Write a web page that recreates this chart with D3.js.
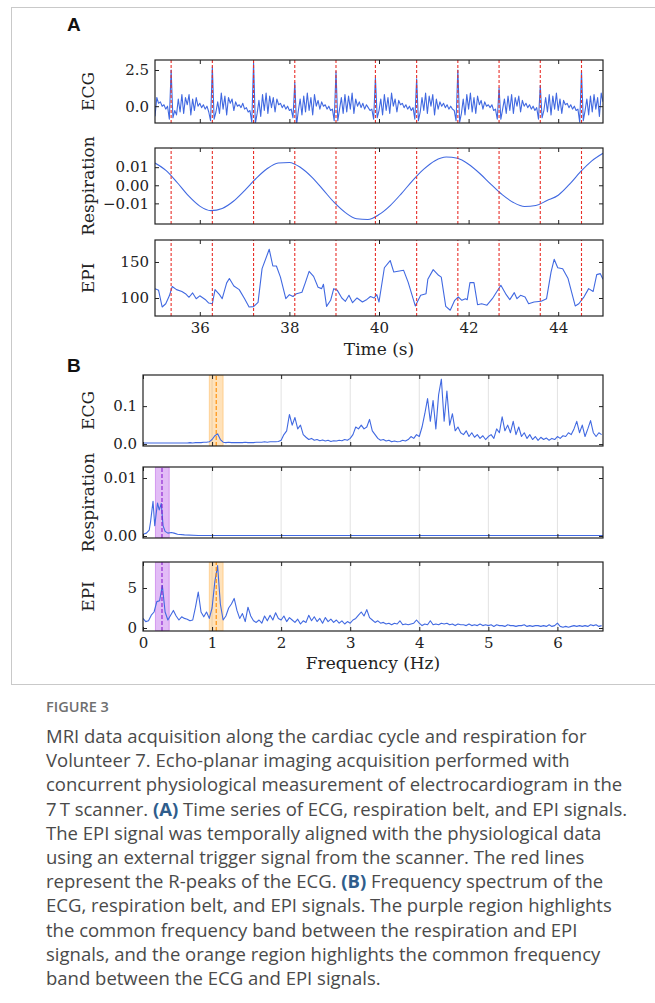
<!DOCTYPE html>
<html>
<head>
<meta charset="utf-8">
<script src="https://cdn.jsdelivr.net/npm/d3@7"></script>
<style>
  body { margin: 0; background: #fff; }
  svg { display: block; }
</style>
</head>
<body>
<svg id="fig" width="655" height="1003"></svg>
<script>
// ---- data ----

// A: ECG, sampled every 0.04 s from 35 s
const ecgStart = 35, ecgStep = 0.04;
const ecgValues = [
  -0.7, 0.6, 0.2, 0.3, 0.0, 0.1, -0.2, 0.0, -0.9,
  2.5,
  -0.8, -0.3, -0.6, 0.5, -0.4, 0.8, -0.5, 0.6, 0.1, 0.8, -0.6, 0.5, -0.3, 0.6, 0.0, 0.2, -0.1, 0.1, -0.2, 0.0, -0.4, -1.0,
  2.72,
  -0.9, -0.4, 0.3, -0.5, 0.9, -0.2, 0.7, -0.6, 0.6, 0.2, 0.5, -0.3, 0.3, 0.0, 0.1, -0.1, 0.2, -0.2, -0.1, -0.4, -0.3, -1.1,
  3.0,
  -1.2, -0.5, 0.4, -0.7, 0.8, -0.3, 0.9, -0.5, 0.7, -0.1, 0.6, -0.4, 0.5, 0.1, 0.2, -0.1, 0.1, -0.2, 0.0, -0.3, -0.2, -0.8,
  1.63,
  -1.3, -0.3, 0.5, -0.6, 0.7, -0.4, 0.9, -0.3, 0.6, -0.6, 0.8, 0.0, 0.4, -0.2, 0.3, 0.0, 0.1, -0.2, 0.0, -0.3, -0.2, -1.0,
  2.39,
  -1.0, -0.2, 0.6, -0.5, 0.8, -0.4, 0.7, -0.2, 0.9, -0.5, 0.5, 0.0, 0.3, -0.1, 0.2, -0.2, 0.1, -0.1, -0.3, -0.2, -0.9,
  1.96,
  -0.8, -0.3, 0.5, -0.6, 0.8, -0.3, 0.6, -0.5, 0.9, 0.0, 0.5, -0.4, 0.4, 0.1, 0.2, -0.1, 0.1, -0.2, 0.0, -0.3, -0.1, -0.9,
  1.9,
  -1.0, -0.4, 0.6, -0.3, 0.9, -0.5, 0.7, 0.0, 0.8, -0.6, 0.5, -0.2, 0.3, 0.0, 0.2, -0.1, 0.1, -0.2, 0.0, -0.2, -0.3, -1.0,
  2.5,
  -1.1, -0.5, 0.5, -0.6, 0.8, -0.2, 0.9, -0.4, 0.6, -0.5, 0.7, 0.1, 0.4, -0.2, 0.3, 0.0, 0.1, -0.1, 0.1, -0.3, -0.2, -0.9,
  1.27,
  -0.9, -0.2, 0.5, -0.5, 0.7, -0.3, 0.8, -0.5, 0.6, 0.0, 0.7, -0.4, 0.4, 0.0, 0.2, -0.1, 0.1, -0.2, 0.0, -0.3, -0.1, -0.9,
  1.45,
  -0.8, -0.3, 0.6, -0.4, 0.8, -0.6, 0.7, -0.2, 0.9, -0.3, 0.5, -0.5, 0.4, 0.1, 0.2, -0.1, 0.1, -0.2, 0.0, -0.3, -0.2, -1.1,
  2.41,
  -1.0, -0.3, 0.5, -0.6, 0.7, -0.4, 0.8, -0.2, 0.6, -0.7, 0.9, 0.3
];

// R-peak times (s), red dashed lines
const rPeaks = [35.36, 36.28, 37.20, 38.12, 39.04, 39.92, 40.84, 41.76, 42.68, 43.60, 44.52];

// A: respiration belt, every 0.25 s from 35 s
const respStart = 35, respStep = 0.25;
const respValues = [
  0.0123, 0.0081, 0.0014, -0.0059, -0.0115, -0.0140, -0.0128, -0.0088, -0.0029, 0.0036,
  0.0091, 0.0123, 0.0126, 0.0098, 0.0045, -0.0024, -0.0095, -0.0151, -0.0185, -0.0189,
  -0.0162, -0.0112, -0.0046, 0.0026, 0.0089, 0.0136, 0.0156, 0.0149, 0.0116, 0.0065,
  0.0005, -0.0052, -0.0095, -0.0117, -0.0112, -0.0084, -0.0055, 0.0005, 0.0075, 0.0135,
  0.0177
];

// A: EPI signal
const epiTime = [
  35.00, 35.08, 35.16, 35.24, 35.32, 35.385, 35.48, 35.60, 35.68, 35.76, 35.84, 35.92, 36.00, 36.12, 36.20,
  36.28, 36.34, 36.44, 36.50, 36.60, 36.66, 36.76, 36.88, 37.00, 37.10, 37.20, 37.30, 37.39, 37.55, 37.63,
  37.71, 37.80, 37.92, 38.00, 38.08, 38.16, 38.28, 38.36, 38.44, 38.54, 38.64, 38.72, 38.76, 38.83, 38.92,
  38.99, 39.07, 39.17, 39.25, 39.33, 39.41, 39.51, 39.63, 39.73, 39.81, 39.89, 39.95, 40.00, 40.12, 40.25,
  40.33, 40.55, 40.65, 40.81, 40.93, 41.05, 41.09, 41.21, 41.33, 41.39, 41.49, 41.59, 41.69, 41.77, 41.85,
  41.93, 41.97, 42.03, 42.12, 42.20, 42.29, 42.41, 42.53, 42.72, 42.84, 42.92, 43.02, 43.08, 43.16, 43.26,
  43.34, 43.46, 43.62, 43.74, 43.84, 43.91, 43.99, 44.10, 44.22, 44.38, 44.46, 44.58, 44.68, 44.78, 44.86,
  44.94, 45.00
];
const epiValues = [
  113, 110.6, 87.5, 92, 103, 116, 111.6, 109, 106, 101, 107, 99, 103, 98, 93,
  92, 111.6, 104.6, 99, 121, 127, 116.7, 111.6, 99, 87.5, 88, 94, 140.7, 167.6, 144.4,
  144.4, 129, 99, 104.6, 102, 106, 108, 122, 137, 130, 115, 113, 119, 88.4, 96.8,
  113, 110.6, 100, 95.4, 103.7, 93.5, 100, 94.4, 98, 102, 100, 104.6, 94.4, 142, 152,
  136, 138.4, 122, 89, 103.7, 106, 126, 139.4, 131.5, 129, 88.4, 83, 96.8, 101.4, 96.8,
  99, 97.7, 121.3, 121.3, 90.7, 92, 90, 99, 117.6, 104.6, 97.7, 107.4, 99, 103.7, 101.4,
  92, 94.4, 95.4, 99, 136, 153.7, 142, 140.7, 126.9, 89, 92, 102, 113, 109, 132.4,
  133.8, 126
];

const timeTicks = [36, 38, 40, 42, 44];

// B: spectra, every 0.04 Hz from 0 Hz
const specStep = 0.04;
const ecgSpectrum = [
  0.003, 0.003, 0.003, 0.003, 0.003, 0.003, 0.003, 0.003, 0.003, 0.003,
  0.003, 0.003, 0.003, 0.003, 0.003, 0.003, 0.003, 0.004, 0.003, 0.004,
  0.004, 0.004, 0.005, 0.005, 0.006, 0.012, 0.022, 0.027, 0.012, 0.005,
  0.004, 0.005, 0.004, 0.004, 0.004, 0.004, 0.004, 0.005, 0.004, 0.004,
  0.004, 0.005, 0.005, 0.005, 0.006, 0.005, 0.006, 0.006, 0.006, 0.007,
  0.010, 0.025, 0.035, 0.078, 0.050, 0.070, 0.040, 0.050, 0.025, 0.018,
  0.012, 0.015, 0.010, 0.012, 0.009, 0.011, 0.008, 0.010, 0.007, 0.009,
  0.008, 0.010, 0.009, 0.012, 0.010, 0.015, 0.025, 0.045, 0.040, 0.050,
  0.040, 0.045, 0.065, 0.035, 0.025, 0.015, 0.010, 0.012, 0.008, 0.010,
  0.006, 0.008, 0.006, 0.007, 0.010, 0.008, 0.012, 0.020, 0.015, 0.025,
  0.020, 0.045, 0.080, 0.120, 0.060, 0.115, 0.040, 0.130, 0.171, 0.060,
  0.140, 0.050, 0.080, 0.035, 0.045, 0.030, 0.025, 0.035, 0.020, 0.030,
  0.018, 0.025, 0.015, 0.022, 0.012, 0.020, 0.025, 0.015, 0.040, 0.030,
  0.072, 0.035, 0.050, 0.030, 0.060, 0.025, 0.045, 0.020, 0.030, 0.015,
  0.025, 0.012, 0.020, 0.010, 0.018, 0.012, 0.016, 0.010, 0.015, 0.012,
  0.020, 0.015, 0.022, 0.020, 0.030, 0.025, 0.040, 0.060, 0.030, 0.050,
  0.020, 0.040, 0.062, 0.030, 0.020, 0.030, 0.025
];
const epiSpectrum = [
  1.2, 0.8, 0.9, 1.6, 2.0, 3.3, 3.4, 5.3, 2.0, 1.0,
  1.6, 2.2, 1.5, 1.0, 1.4, 1.2, 1.1, 0.9, 1.0, 2.6,
  4.5, 2.0, 1.4, 2.0, 1.2, 2.5, 5.8, 7.8, 3.0, 1.0,
  1.5, 2.5, 3.0, 3.7, 2.2, 1.2, 1.8, 0.8, 2.6, 1.5,
  0.9, 0.7, 1.0, 0.6, 1.5, 0.9, 1.6, 1.0, 1.9, 1.2,
  1.0, 1.5, 0.8, 1.3, 1.0, 0.7, 1.1, 0.5, 0.9, 0.7,
  1.6, 0.9, 1.4, 0.8, 1.2, 0.6, 1.3, 0.8, 1.1, 0.7,
  1.0, 0.6, 0.9, 0.5, 0.8, 0.6, 1.0, 1.2, 1.6, 2.0,
  1.5, 2.3, 1.3, 1.0, 0.7, 0.9, 0.6, 0.7, 0.5, 0.6,
  0.4, 0.6, 0.5, 0.9, 0.4, 0.5, 0.4, 0.5, 0.6, 1.0,
  0.6, 0.3, 0.5, 0.4, 0.9, 0.4, 0.5, 0.4, 0.6, 0.5,
  0.6, 0.4, 0.5, 0.3, 0.5, 0.4, 0.4, 0.3, 0.5, 0.3,
  0.4, 0.3, 0.5, 0.3, 0.4, 0.3, 0.4, 0.2, 0.4, 0.3,
  0.3, 0.2, 0.4, 0.3, 0.3, 0.2, 0.3, 0.3, 0.4, 0.2,
  0.3, 0.2, 0.3, 0.3, 0.2, 0.3, 0.2, 0.4, 0.2, 0.3,
  0.6, 0.2, 0.1, 0.2, 0.1, 0.2, 0.3, 0.2, 0.3, 0.2,
  0.3, 0.2, 0.4, 0.3, 0.4, 0.2, 0.3
];
// respiration spectrum is flat past 0.6 Hz, so it is kept as (freq, value) pairs
const respFreq = [0, 0.05, 0.09, 0.11, 0.145, 0.17, 0.21, 0.235, 0.265, 0.29, 0.32, 0.36, 0.41, 0.45, 0.5, 0.6, 0.8, 6.66];
const respSpectrum = [0.0003, 0.0005, 0.001, 0.0025, 0.006, 0.0018, 0.0057, 0.0045, 0.0056, 0.0018, 0.0008, 0.0005, 0.0006, 0.0005, 0.0003, 0.0002, 0.0001, 0.0001];

const freqTicks = [0, 1, 2, 3, 4, 5, 6];
const purpleBand = [0.18, 0.38], purplePeak = 0.275;
const orangeBand = [0.96, 1.16], orangePeak = 1.06;

const captionTitle = "FIGURE 3";
const captionLines = [
  "MRI data acquisition along the cardiac cycle and respiration for",
  "Volunteer 7. Echo-planar imaging acquisition performed with",
  "concurrent physiological measurement of electrocardiogram in the",
  "7\u2009T scanner. (A) Time series of ECG, respiration belt, and EPI signals.",
  "The EPI signal was temporally aligned with the physiological data",
  "using an external trigger signal from the scanner. The red lines",
  "represent the R-peaks of the ECG. (B) Frequency spectrum of the",
  "ECG, respiration belt, and EPI signals. The purple region highlights",
  "the common frequency band between the respiration and EPI",
  "signals, and the orange region highlights the common frequency",
  "band between the ECG and EPI signals."
];

// ---- drawing ----
const svg = d3.select("#fig");
const serif = "'DejaVu Serif', serif";
const blue = "#4169e1";
const ink = "#222";

// light frame around the figure
svg.append("rect")
  .attr("x", 11.5).attr("y", 7.5).attr("width", 660).attr("height", 677)
  .attr("fill", "none").attr("stroke", "#c9c9c9");

let clipId = 0;

function makePanel({ left, right, top, bottom, xDomain, yDomain, yTicks, yFormat, xTicks, xLabels, label, grid }) {
  const x = d3.scaleLinear().domain(xDomain).range([left, right]);
  const y = d3.scaleLinear().domain(yDomain).range([bottom, top]);
  const g = svg.append("g");
  const id = "clip" + (clipId++);
  g.append("clipPath").attr("id", id).append("rect")
    .attr("x", left).attr("y", top).attr("width", right - left).attr("height", bottom - top);

  const under = g.append("g").attr("clip-path", `url(#${id})`);
  if (grid) {
    under.selectAll("line.grid").data(xTicks.filter(d => d > xDomain[0])).join("line")
      .attr("class", "grid")
      .attr("x1", d => x(d)).attr("x2", d => x(d))
      .attr("y1", top).attr("y2", bottom)
      .attr("stroke", "#e2e2e2").attr("stroke-width", 1);
  }
  const plot = g.append("g").attr("clip-path", `url(#${id})`);
  const over = g.append("g").attr("clip-path", `url(#${id})`);

  // axes: ticks point inwards on all four sides
  const styleAxis = sel => {
    sel.select(".domain").remove();
    sel.selectAll(".tick line").attr("stroke", ink).attr("stroke-width", 1);
    sel.selectAll(".tick text").attr("fill", ink).style("font-family", serif).style("font-size", "15px");
  };
  g.append("g").attr("transform", `translate(0,${bottom})`)
    .call(d3.axisBottom(x).tickValues(xTicks).tickSizeInner(-4).tickSizeOuter(0).tickPadding(6)
      .tickFormat(xLabels ? d3.format("d") : ""))
    .call(styleAxis);
  g.append("g").attr("transform", `translate(0,${top})`)
    .call(d3.axisTop(x).tickValues(xTicks).tickSizeInner(-4).tickSizeOuter(0).tickFormat(""))
    .call(styleAxis);
  g.append("g").attr("transform", `translate(${left},0)`)
    .call(d3.axisLeft(y).tickValues(yTicks).tickSizeInner(-4).tickSizeOuter(0).tickPadding(6).tickFormat(d3.format(yFormat)))
    .call(styleAxis);
  g.append("g").attr("transform", `translate(${right},0)`)
    .call(d3.axisRight(y).tickValues(yTicks).tickSizeInner(-4).tickSizeOuter(0).tickFormat(""))
    .call(styleAxis);

  g.append("rect")
    .attr("x", left).attr("y", top).attr("width", right - left).attr("height", bottom - top)
    .attr("fill", "none").attr("stroke", ink).attr("stroke-width", 1.2);

  g.append("text")
    .attr("transform", `translate(88,${(top + bottom) / 2}) rotate(-90)`)
    .attr("text-anchor", "middle").attr("dy", "0.35em")
    .style("font-family", serif).style("font-size", "17px").attr("fill", ink)
    .text(label);

  return { x, y, under, plot, over };
}

function drawLine(p, xs, ys) {
  const line = d3.line().x((d, i) => p.x(xs[i])).y(d => p.y(d));
  p.plot.append("path").datum(ys)
    .attr("d", line)
    .attr("fill", "none").attr("stroke", blue).attr("stroke-width", 1.1)
    .attr("stroke-linejoin", "round");
}

function vDashed(p, v, color, dash) {
  const [y0, y1] = p.y.range();
  p.over.append("line")
    .attr("x1", p.x(v)).attr("x2", p.x(v)).attr("y1", y0).attr("y2", y1)
    .attr("stroke", color).attr("stroke-width", 1.1).attr("stroke-dasharray", dash);
}

function band(p, range, color) {
  const [y0, y1] = p.y.range();
  p.under.append("rect")
    .attr("x", p.x(range[0])).attr("width", p.x(range[1]) - p.x(range[0]))
    .attr("y", y1).attr("height", y0 - y1)
    .attr("fill", color).attr("fill-opacity", 0.3)
    .attr("stroke", color).attr("stroke-opacity", 0.35);
}

// ----- panel A -----
const aL = 155, aR = 603;
const ecgTimes = ecgValues.map((_, i) => ecgStart + i * ecgStep);
const respTimes = respValues.map((_, i) => respStart + i * respStep);

const pEcg = makePanel({ left: aL, right: aR, top: 60, bottom: 123, xDomain: [35, 45], yDomain: [-1.16, 3.19],
  yTicks: [0, 2.5], yFormat: ".1f", xTicks: timeTicks, xLabels: false, label: "ECG" });
drawLine(pEcg, ecgTimes, ecgValues);

const pResp = makePanel({ left: aL, right: aR, top: 148, bottom: 224, xDomain: [35, 45], yDomain: [-0.0214, 0.0206],
  yTicks: [-0.01, 0, 0.01], yFormat: ".2f", xTicks: timeTicks, xLabels: false, label: "Respiration" });
const respLine = d3.line().curve(d3.curveMonotoneX).x((d, i) => pResp.x(respTimes[i])).y(d => pResp.y(d));
pResp.plot.append("path").datum(respValues).attr("d", respLine)
  .attr("fill", "none").attr("stroke", blue).attr("stroke-width", 1.1);

const pEpi = makePanel({ left: aL, right: aR, top: 240, bottom: 316, xDomain: [35, 45], yDomain: [75, 180.5],
  yTicks: [100, 150], yFormat: "d", xTicks: timeTicks, xLabels: true, label: "EPI" });
drawLine(pEpi, epiTime, epiValues);

for (const p of [pEcg, pResp, pEpi]) {
  for (const t of rPeaks) vDashed(p, t, "#e8302a", "3,2");
}

svg.append("text").attr("x", (aL + aR) / 2).attr("y", 355)
  .attr("text-anchor", "middle").style("font-family", serif).style("font-size", "17px").attr("fill", ink)
  .text("Time (s)");

// ----- panel B -----
const bL = 143, bR = 603;
const freqDomain = [0, 6.66];
const specFreq = ecgSpectrum.map((_, i) => i * specStep);

const qEcg = makePanel({ left: bL, right: bR, top: 375, bottom: 446, xDomain: freqDomain, yDomain: [-0.005, 0.182],
  yTicks: [0, 0.1], yFormat: ".1f", xTicks: freqTicks, xLabels: false, label: "ECG", grid: true });
band(qEcg, orangeBand, "#ff9f1c");
drawLine(qEcg, specFreq, ecgSpectrum);
vDashed(qEcg, orangePeak, "#ff8c00", "4,2");

const qResp = makePanel({ left: bL, right: bR, top: 467, bottom: 538, xDomain: freqDomain, yDomain: [-0.00034, 0.0119],
  yTicks: [0, 0.01], yFormat: ".2f", xTicks: freqTicks, xLabels: false, label: "Respiration", grid: true });
band(qResp, purpleBand, "#a020e0");
drawLine(qResp, respFreq, respSpectrum);
vDashed(qResp, purplePeak, "#8a1fd0", "4,2");

const qEpi = makePanel({ left: bL, right: bR, top: 562, bottom: 631, xDomain: freqDomain, yDomain: [-0.375, 8.25],
  yTicks: [0, 5], yFormat: "d", xTicks: freqTicks, xLabels: true, label: "EPI", grid: true });
band(qEpi, purpleBand, "#a020e0");
band(qEpi, orangeBand, "#ff9f1c");
drawLine(qEpi, specFreq, epiSpectrum);
vDashed(qEpi, purplePeak, "#8a1fd0", "4,2");
vDashed(qEpi, orangePeak, "#ff8c00", "4,2");

svg.append("text").attr("x", (bL + bR) / 2).attr("y", 669)
  .attr("text-anchor", "middle").style("font-family", serif).style("font-size", "17px").attr("fill", ink)
  .text("Frequency (Hz)");

// panel letters
for (const [t, yy] of [["A", 31], ["B", 372]]) {
  svg.append("text").attr("x", 67).attr("y", yy)
    .style("font-family", "'Liberation Sans', Arial, sans-serif").style("font-weight", "bold")
    .style("font-size", "19px").attr("fill", "#111").text(t);
}

// ----- caption -----
const sans = "'Open Sans', 'Noto Sans', sans-serif";
svg.append("text").attr("x", 46).attr("y", 712)
  .style("font-family", sans).style("font-size", "14.5px").style("font-weight", 600)
  .attr("fill", "#6f6f6f").text(captionTitle);

const cap = svg.append("g");
captionLines.forEach((line, i) => {
  const t = cap.append("text").attr("x", 46).attr("y", 743 + i * 24.2)
    .style("font-family", sans).style("font-size", "18.5px").attr("fill", "#4a4a4a");
  line.split(/(\([AB]\))/).filter(s => s.length).forEach(s => {
    const bold = /^\([AB]\)$/.test(s);
    t.append("tspan").text(s)
      .style("font-weight", bold ? 700 : 400)
      .attr("fill", bold ? "#2f5d8c" : null);
  });
});
</script>
</body>
</html>
